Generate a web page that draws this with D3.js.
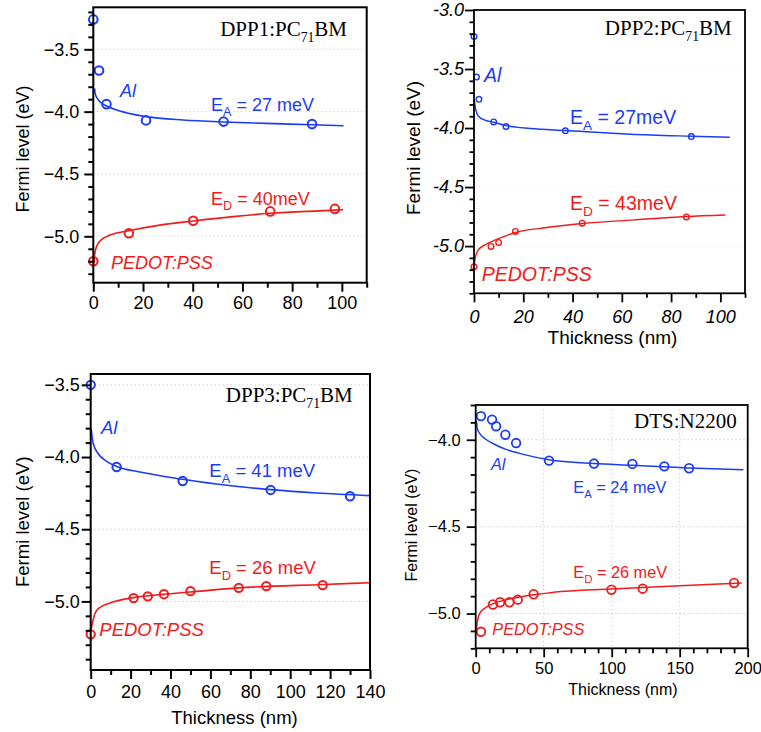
<!DOCTYPE html>
<html><head><meta charset="utf-8">
<script src="https://cdn.jsdelivr.net/npm/d3@7"></script>
<style>body{margin:0;background:#fff}svg{display:block}text{white-space:pre}</style>
</head><body>
<svg id="c" width="761" height="732"></svg>
<script>
// ---------- DATA ----------
// Panel 1: DPP1:PC71BM
const p1BlueX = [0, 2.3, 5.3, 21.2, 52.4, 88];
const p1BlueY = [-3.26, -3.67, -3.94, -4.07, -4.08, -4.10];
const p1RedX = [0, 14.3, 40.2, 71.2, 97.2];
const p1RedY = [-5.20, -4.975, -4.875, -4.80, -4.78];
const p1BlueFitX = [0.5, 0.9, 2.7, 5.4, 9.4, 16.1, 21.2, 36.1, 52.4, 69.6, 88, 100.7];
const p1BlueFitY = [-3.813, -3.867, -3.92, -3.955, -3.987, -4.022, -4.04, -4.067, -4.083, -4.094, -4.105, -4.113];
const p1RedFitX = [0.3, 0.6, 1.6, 3.4, 6.7, 14.3, 26.8, 40.2, 56.2, 71.2, 97.2, 100.5];
const p1RedFitY = [-5.217, -5.136, -5.07, -5.024, -4.99, -4.955, -4.91, -4.877, -4.842, -4.815, -4.790, -4.786];
const p1XTicks = [0, 20, 40, 60, 80, 100];
const p1YTicks = [-5.0, -4.5, -4.0, -3.5];

// Panel 2: DPP2:PC71BM
const p2BlueX = [0, 1, 2, 8, 13, 37.1, 88.2];
const p2BlueY = [-3.225, -3.568, -3.757, -3.948, -3.987, -4.024, -4.072];
const p2RedX = [0, 6.9, 10, 16.8, 43.9, 86.2];
const p2RedY = [-5.175, -5.003, -4.969, -4.876, -4.806, -4.753];
const p2BlueFitX = [0.1, 0.7, 1.8, 4.5, 8, 13, 22.8, 37.1, 63.4, 88.2, 103.8];
const p2BlueFitY = [-3.76, -3.844, -3.9, -3.934, -3.951, -3.979, -4.004, -4.021, -4.052, -4.069, -4.078];
const p2RedFitX = [0.1, 0.7, 1.8, 4.5, 7.9, 12, 16.8, 29.6, 43.9, 64.8, 86.2, 102];
const p2RedFitY = [-5.152, -5.082, -5.031, -4.989, -4.955, -4.921, -4.885, -4.843, -4.809, -4.778, -4.749, -4.736];
const p2XTicks = [0, 20, 40, 60, 80, 100];
const p2YTicks = [-5.0, -4.5, -4.0, -3.5, -3.0];

// Panel 3: DPP3:PC71BM
const p3BlueX = [0, 13, 46.1, 90.2, 130];
const p3BlueY = [-3.5, -4.069, -4.166, -4.228, -4.272];
const p3RedX = [0, 21.5, 28.6, 36.7, 50, 74.2, 88, 116.3];
const p3RedY = [-5.228, -4.977, -4.965, -4.95, -4.929, -4.906, -4.894, -4.887];
const p3BlueFitX = [0.2, 1.3, 3.8, 8, 13, 24.7, 46.1, 68.2, 90.2, 113.3, 139.7];
const p3BlueFitY = [-3.804, -3.908, -3.977, -4.03, -4.065, -4.104, -4.154, -4.196, -4.226, -4.249, -4.267];
const p3RedFitX = [0.2, 0.8, 1.8, 3.8, 9.7, 21.4, 36.4, 49.8, 74.2, 116.3, 139.7];
const p3RedFitY = [-5.19, -5.153, -5.096, -5.05, -5.011, -4.974, -4.951, -4.935, -4.906, -4.883, -4.871];
const p3XTicks = [0, 20, 40, 60, 80, 100, 120, 140];
const p3YTicks = [-5.0, -4.5, -4.0, -3.5];

// Panel 4: DTS:N2200
const p4BlueX = [3.9, 12, 15, 21.8, 29.7, 53.9, 87, 115.2, 138.7, 156.9];
const p4BlueY = [-3.864, -3.884, -3.922, -3.971, -4.019, -4.12, -4.137, -4.139, -4.153, -4.164];
const p4RedX = [3.9, 12.7, 17.9, 24.8, 30.9, 42.6, 99.8, 122.8, 190];
const p4RedY = [-5.105, -4.948, -4.935, -4.935, -4.92, -4.889, -4.863, -4.857, -4.824];
const p4BlueFitX = [0.5, 1.2, 3.2, 6.9, 13, 22.8, 35, 53.9, 87, 115.2, 138.7, 156.9, 196.8];
const p4BlueFitY = [-3.889, -3.937, -3.966, -3.994, -4.023, -4.057, -4.084, -4.115, -4.137, -4.147, -4.156, -4.162, -4.172];
const p4RedFitX = [0.5, 1.5, 3.2, 6.9, 12.7, 22.8, 37.5, 57.1, 99.8, 138, 195.6];
const p4RedFitY = [-5.092, -5.034, -4.996, -4.968, -4.943, -4.92, -4.897, -4.878, -4.859, -4.844, -4.824];
const p4XTicks = [0, 50, 100, 150, 200];
const p4YTicks = [-5.0, -4.5, -4.0];

// ---------- DRAWING ----------
const BLUE = "#1c3cf5", RED = "#f21a1a";
const SANS = "'Liberation Sans', Arial, Helvetica, sans-serif";
const SERIF = "'Liberation Serif', 'Times New Roman', serif";
const svg = d3.select("#c");
const zip = (a, b) => a.map((v, i) => [v, b[i]]);

function subText(g, x, y, parts, o) {
  const t = g.append("text").attr("x", x).attr("y", y)
    .attr("font-family", o.family).attr("font-size", o.size)
    .attr("fill", o.color).attr("text-anchor", o.anchor || "start")
    .attr("font-style", o.italic ? "italic" : "normal");
  let shifted = false;
  parts.forEach(p => {
    const ts = t.append("tspan").text(p.t);
    if (p.sub) { ts.attr("font-size", o.size * (o.subScale || 0.7)).attr("dy", o.size * (o.subDy || 0.3)); shifted = true; }
    else if (shifted) { ts.attr("dy", -o.size * (o.subDy || 0.3)); shifted = false; }
  });
  return t;
}

function drawPanel(c) {
  const g = svg.append("g");
  const B = c.box;
  const x = d3.scaleLinear().domain(c.xDom).range([B.l, B.r]);
  const y = d3.scaleLinear().domain(c.yDom).range([B.b, B.t]);

  if (c.gridH) {
    g.append("g").selectAll("line").data(c.yTicks.filter(v => v > c.yDom[0] && v < c.yDom[1])).join("line")
      .attr("x1", B.l).attr("x2", B.r).attr("y1", d => y(d)).attr("y2", d => y(d))
      .attr("stroke", c.gridColor).attr("stroke-width", 1).attr("stroke-dasharray", "1,3");
  }
  if (c.gridV) {
    g.append("g").selectAll("line").data(c.xTicks.filter(v => v > c.xDom[0] && v < c.xDom[1])).join("line")
      .attr("y1", B.t).attr("y2", B.b).attr("x1", d => x(d)).attr("x2", d => x(d))
      .attr("stroke", c.gridColor).attr("stroke-width", 1).attr("stroke-dasharray", "1,3");
  }

  const line = d3.line().x(d => x(d[0])).y(d => y(d[1])).curve(d3.curveMonotoneX);
  c.fits.forEach(f => {
    g.append("path").datum(zip(f.x, f.y)).attr("d", line)
      .attr("fill", "none").attr("stroke", f.color).attr("stroke-width", c.lineW);
  });

  c.series.forEach(s => {
    g.append("g").selectAll("circle").data(zip(s.x, s.y)).join("circle")
      .attr("cx", d => x(d[0])).attr("cy", d => y(d[1])).attr("r", c.r)
      .attr("fill", "none").attr("stroke", s.color).attr("stroke-width", c.markW);
  });

  g.append("rect").attr("x", B.l).attr("y", B.t).attr("width", B.r - B.l).attr("height", B.b - B.t)
    .attr("fill", "none").attr("stroke", "#000").attr("stroke-width", c.axisW);

  const xMinor = [];
  for (let k = Math.ceil(c.xDom[0] / c.xMinor); k * c.xMinor <= c.xDom[1] + 1e-9; k++) {
    const v = +(k * c.xMinor).toFixed(6);
    if (!c.xTicks.some(t => Math.abs(t - v) < 1e-6)) xMinor.push(v);
  }
  const yMinor = [];
  for (let k = Math.ceil(c.yDom[0] / c.yMinor - 1e-6); k * c.yMinor <= c.yDom[1] + 1e-9; k++) {
    const v = +(k * c.yMinor).toFixed(6);
    if (!c.yTicks.some(t => Math.abs(t - v) < 1e-6)) yMinor.push(v);
  }
  const style = (sel) => {
    sel.select(".domain").remove();
    sel.selectAll(".tick line").attr("stroke", "#000").attr("stroke-width", c.axisW);
    sel.selectAll(".tick text").attr("fill", "#000").attr("font-family", SANS)
      .attr("font-size", c.tickFont).attr("font-style", c.italicTicks ? "italic" : "normal");
  };
  g.append("g").attr("transform", `translate(0,${B.b})`)
    .call(d3.axisBottom(x).tickValues(xMinor).tickSize(c.minorLen).tickSizeOuter(0).tickFormat(""))
    .call(style);
  g.append("g").attr("transform", `translate(${B.l},0)`)
    .call(d3.axisLeft(y).tickValues(yMinor).tickSize(c.minorLen).tickSizeOuter(0).tickFormat(""))
    .call(style);
  g.append("g").attr("transform", `translate(0,${B.b})`)
    .call(d3.axisBottom(x).tickValues(c.xTicks).tickSize(c.tickLen).tickSizeOuter(0)
      .tickPadding(c.xPad).tickFormat(c.xFmt))
    .call(style);
  g.append("g").attr("transform", `translate(${B.l},0)`)
    .call(d3.axisLeft(y).tickValues(c.yTicks).tickSize(c.tickLen).tickSizeOuter(0)
      .tickPadding(c.yPad).tickFormat(c.yFmt))
    .call(style);

  g.append("text").attr("transform", `translate(${c.yTitle[0]},${c.yTitle[1]}) rotate(-90)`)
    .attr("text-anchor", "middle").attr("dy", "0.35em")
    .attr("font-family", SANS).attr("font-size", c.titleFont).attr("fill", "#000")
    .text("Fermi level (eV)");
  if (c.xTitle) {
    g.append("text").attr("x", c.xTitle[0]).attr("y", c.xTitle[1])
      .attr("text-anchor", "middle")
      .attr("font-family", SANS).attr("font-size", c.titleFont).attr("fill", "#000")
      .text("Thickness (nm)");
  }

  subText(g, c.name.x, c.name.y, c.name.parts,
    { family: SERIF, size: c.nameFont, color: "#000", anchor: "end", subScale: 0.65, subDy: 0.28 });
  const af = c.annFont;
  subText(g, c.al[0], c.al[1], [{ t: "Al" }], { family: SANS, size: af, color: BLUE, italic: true });
  subText(g, c.ea.x, c.ea.y, [{ t: "E" }, { t: "A", sub: true }, { t: c.ea.txt }], { family: SANS, size: af, color: BLUE });
  subText(g, c.ed.x, c.ed.y, [{ t: "E" }, { t: "D", sub: true }, { t: c.ed.txt }], { family: SANS, size: af, color: RED });
  subText(g, c.pedot[0], c.pedot[1], [{ t: "PEDOT:PSS" }], { family: SANS, size: af, color: RED, italic: true });
}

const fmtMinus = d3.format(".1f");
const fmtHyphen = v => v.toFixed(1);
const fmtInt = d3.format("d");

drawPanel({
  box: { l: 93.3, t: 7.3, r: 366.7, b: 282.7 },
  xDom: [0, 110], yDom: [-5.372, -3.163],
  xTicks: p1XTicks, yTicks: p1YTicks, xMinor: 10, yMinor: 0.1,
  xFmt: fmtInt, yFmt: fmtMinus, italicTicks: false,
  tickFont: 18, titleFont: 18, annFont: 18, nameFont: 21,
  tickLen: 9, minorLen: 5, xPad: 5, yPad: 5, axisW: 2,
  gridH: true, gridV: false, gridColor: "#bdbdbd",
  lineW: 1.6, r: 4.3, markW: 2,
  fits: [{ x: p1BlueFitX, y: p1BlueFitY, color: BLUE }, { x: p1RedFitX, y: p1RedFitY, color: RED }],
  series: [{ x: p1BlueX, y: p1BlueY, color: BLUE }, { x: p1RedX, y: p1RedY, color: RED }],
  yTitle: [23, 149], xTitle: null,
  name: { x: 347, y: 36, parts: [{ t: "DPP1:PC" }, { t: "71", sub: true }, { t: "BM" }] },
  al: [120, 96.7], ea: { x: 211, y: 111, txt: " = 27 meV" }, ed: { x: 211, y: 205, txt: " = 40meV" },
  pedot: [111, 269.3]
});

drawPanel({
  box: { l: 474, t: 10, r: 745, b: 293.3 },
  xDom: [0, 110], yDom: [-5.4, -3.0],
  xTicks: p2XTicks, yTicks: p2YTicks, xMinor: 10, yMinor: 0.1,
  xFmt: fmtInt, yFmt: fmtHyphen, italicTicks: true,
  tickFont: 18, titleFont: 19, annFont: 19.5, nameFont: 21,
  tickLen: 9, minorLen: 4.5, xPad: 8, yPad: 1, axisW: 1.8,
  gridH: true, gridV: false, gridColor: "#e2e2e2",
  lineW: 1.4, r: 2.8, markW: 1.4,
  fits: [{ x: p2BlueFitX, y: p2BlueFitY, color: BLUE }, { x: p2RedFitX, y: p2RedFitY, color: RED }],
  series: [{ x: p2BlueX, y: p2BlueY, color: BLUE }, { x: p2RedX, y: p2RedY, color: RED }],
  yTitle: [413, 148], xTitle: [612.5, 343.5],
  name: { x: 731.7, y: 35, parts: [{ t: "DPP2:PC" }, { t: "71", sub: true }, { t: "BM" }] },
  al: [484, 81.7], ea: { x: 570, y: 124, txt: " = 27meV" }, ed: { x: 570, y: 210, txt: " = 43meV" },
  pedot: [481.7, 280.7]
});

drawPanel({
  box: { l: 90.7, t: 374, r: 370, b: 670 },
  xDom: [0, 140], yDom: [-5.475, -3.425],
  xTicks: p3XTicks, yTicks: p3YTicks, xMinor: 10, yMinor: 0.1,
  xFmt: fmtInt, yFmt: fmtMinus, italicTicks: false,
  tickFont: 18, titleFont: 18.5, annFont: 18.5, nameFont: 21,
  tickLen: 9, minorLen: 5, xPad: 6, yPad: 2, axisW: 2,
  gridH: true, gridV: false, gridColor: "#bdbdbd",
  lineW: 1.6, r: 4.2, markW: 2,
  fits: [{ x: p3BlueFitX, y: p3BlueFitY, color: BLUE }, { x: p3RedFitX, y: p3RedFitY, color: RED }],
  series: [{ x: p3BlueX, y: p3BlueY, color: BLUE }, { x: p3RedX, y: p3RedY, color: RED }],
  yTitle: [23, 521.7], xTitle: [234.5, 723.5],
  name: { x: 352.7, y: 401.7, parts: [{ t: "DPP3:PC" }, { t: "71", sub: true }, { t: "BM" }] },
  al: [101, 434], ea: { x: 209.3, y: 477.3, txt: " = 41 meV" }, ed: { x: 209.3, y: 574, txt: " = 26 meV" },
  pedot: [99.3, 636]
});

drawPanel({
  box: { l: 475.7, t: 405, r: 747.7, b: 648.3 },
  xDom: [0, 200], yDom: [-5.2, -3.8],
  xTicks: p4XTicks, yTicks: p4YTicks, xMinor: 10, yMinor: 0.1,
  xFmt: fmtInt, yFmt: fmtMinus, italicTicks: false,
  tickFont: 16.5, titleFont: 16, annFont: 16.3, nameFont: 21,
  tickLen: 9, minorLen: 5, xPad: 5, yPad: 6, axisW: 1.8,
  gridH: true, gridV: true, gridColor: "#bdbdbd",
  lineW: 1.5, r: 4.3, markW: 1.8,
  fits: [{ x: p4BlueFitX, y: p4BlueFitY, color: BLUE }, { x: p4RedFitX, y: p4RedFitY, color: RED }],
  series: [{ x: p4BlueX, y: p4BlueY, color: BLUE }, { x: p4RedX, y: p4RedY, color: RED }],
  yTitle: [411.5, 525], xTitle: [623, 695],
  name: { x: 736.7, y: 428.3, parts: [{ t: "DTS:N2200" }] },
  al: [491, 470], ea: { x: 573.3, y: 492.7, txt: " = 24 meV" }, ed: { x: 573.3, y: 577.7, txt: " = 26 meV" },
  pedot: [492.3, 635]
});
</script>
</body></html>
